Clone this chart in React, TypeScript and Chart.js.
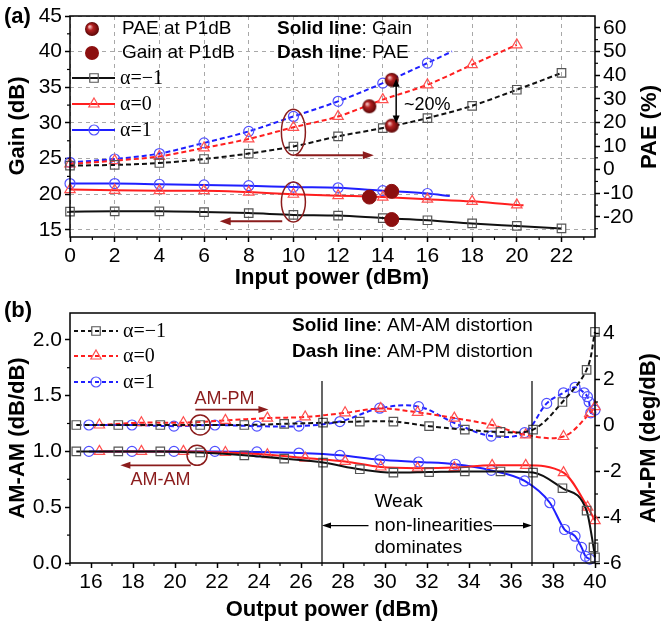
import React, { useEffect, useRef } from "react";
import { Chart, registerables } from "chart.js";
Chart.register(...registerables);

const SANS = "'Liberation Sans', Arial, Helvetica, sans-serif";
const SERIF = "'Liberation Serif', 'Times New Roman', serif";

const BLACK = "#111111";
const BLACK_M = "#555555";
const RED = "#ff1f1f";
const RED_M = "#ff5050";
const BLUE = "#1f1fff";
const BLUE_M = "#5050ff";
const DARKRED = "#8b1c1c";

// ================= Panel (a) data =================
const inPowerTicks = [0, 2, 4, 6, 8, 10, 12, 14, 16, 18, 20, 22];
const gainTicks = [15, 20, 25, 30, 35, 40, 45];
const paeTicks = [-20, -10, 0, 10, 20, 30, 40, 50, 60];

const gainX_m1 = [0, 2, 4, 6, 8, 10, 12, 14, 16, 18, 20, 22];
const gain_m1 = [17.55, 17.6, 17.6, 17.5, 17.35, 17.1, 17.0, 16.65, 16.35, 15.9, 15.55, 15.2];
const gainX_0 = [0, 2, 4, 6, 8, 10, 12, 14, 16, 18, 20, 20.3];
const gain_0 = [20.65, 20.55, 20.5, 20.5, 20.3, 20.0, 19.8, 19.6, 19.3, 19.0, 18.5, 18.45];
const gainX_1 = [0, 2, 4, 6, 8, 10, 12, 14, 16, 17];
const gain_1 = [21.5, 21.5, 21.4, 21.3, 21.2, 21.0, 20.9, 20.5, 20.1, 19.75];

const paeX_m1 = [0, 2, 4, 6, 8, 10, 12, 14, 16, 18, 20, 22];
const pae_m1 = [1.7, 2.0, 2.8, 4.5, 6.8, 9.8, 14.1, 17.6, 21.8, 27.0, 33.8, 40.9];
const paeX_0 = [0, 2, 4, 6, 8, 10, 12, 14, 16, 18, 20];
const pae_0 = [2.4, 3.8, 5.6, 9.2, 13.0, 17.9, 22.5, 29.6, 35.9, 44.4, 52.8];
const paeX_1 = [0, 2, 4, 6, 8, 10, 12, 14, 16, 17.1];
const pae_1 = [3.1, 4.5, 6.8, 11.3, 16.2, 22.5, 28.9, 36.6, 45.1, 50];

const p1dbX = [14.4, 13.4, 14.4];
const paeAtP1dB = [38, 26.8, 18.6];
const gainAtP1dB = [20.4, 19.6, 16.45];

// ================= Panel (b) data =================
const outPowerTicks = [16, 18, 20, 22, 24, 26, 28, 30, 32, 34, 36, 38, 40];
const amamTicks = [0, 0.5, 1.0, 1.5, 2.0];
const amamTickLabels = ["0.0", "0.5", "1.0", "1.5", "2.0"];
const ampmTicks = [-6, -4, -2, 0, 2, 4];

const amX_m1 = [15.3, 17.3, 19.3, 21.2, 23.3, 25.2, 27.05, 28.8, 30.4, 32.1, 33.8, 35.5, 37.05, 38.45, 39.6, 39.93, 40];
const amam_m1 = [1.0, 1.0, 1.0, 0.99, 0.965, 0.935, 0.9, 0.84, 0.81, 0.815, 0.82, 0.82, 0.81, 0.67, 0.47, 0.14, 0.05];
const pmX_m1 = [15.3, 17.3, 19.3, 21.2, 23.3, 25.2, 27.05, 28.8, 30.4, 32.1, 33.8, 35.5, 37.05, 38.45, 39.6, 40];
const ampm_m1 = [0, 0, 0, 0, 0, 0.05, 0.1, 0.15, 0.15, -0.05, -0.2, -0.3, -0.2, 1.0, 2.4, 4.05];

const amX_0 = [16.4, 18.4, 20.4, 22.4, 24.4, 26.2, 28.1, 29.8, 31.55, 33.3, 35.1, 36.7, 38.5, 39.65, 40];
const amam_0 = [1.0, 1.0, 1.0, 0.99, 0.97, 0.94, 0.91, 0.86, 0.85, 0.855, 0.875, 0.875, 0.81, 0.5, 0.38];
const pmX_0 = [16.4, 18.4, 20.4, 22.4, 24.4, 26.2, 28.1, 29.8, 31.55, 33.3, 35.1, 36.7, 38.5, 39.75, 40];
const ampm_0 = [0, 0.1, 0.1, 0.2, 0.3, 0.35, 0.53, 0.72, 0.55, 0.3, 0.0, -0.43, -0.5, 0.5, 0.8];

const amX_1 = [15.9, 17.95, 19.95, 21.9, 23.9, 25.9, 27.85, 29.75, 31.6, 33.35, 35.06, 36.65, 37.85, 38.55, 39.05, 39.36, 39.55, 39.75];
const amam_1 = [1.0, 1.0, 1.0, 1.0, 0.995, 0.985, 0.965, 0.925, 0.905, 0.885, 0.83, 0.735, 0.54, 0.3, 0.24, 0.14, 0.06, 0.035];
const pmX_1 = [15.9, 17.95, 19.95, 21.9, 23.9, 25.9, 27.85, 29.75, 31.6, 33.35, 35.06, 36.65, 37.7, 38.5, 39.05, 39.48, 39.64, 39.72, 39.8, 40];
const ampm_1 = [0, 0, -0.05, 0, -0.05, -0.05, 0.15, 0.73, 0.8, 0.07, -0.48, -0.33, 0.94, 1.4, 1.64, 1.4, 1.23, 1.0, 0.53, 0.65];

// ================= helpers =================
const pts = (xs: number[], ys: number[]) => xs.map((x, i) => ({ x, y: ys[i] }));

function seg(ctx: CanvasRenderingContext2D, x1: number, y1: number, x2: number, y2: number) {
  ctx.beginPath();
  ctx.moveTo(x1, y1);
  ctx.lineTo(x2, y2);
  ctx.stroke();
}

function head(ctx: CanvasRenderingContext2D, x: number, y: number, ang: number, len: number, w: number) {
  const c = Math.cos(ang), s = Math.sin(ang);
  ctx.beginPath();
  ctx.moveTo(x, y);
  ctx.lineTo(x - len * c - w * s, y - len * s + w * c);
  ctx.lineTo(x - len * c + w * s, y - len * s - w * c);
  ctx.closePath();
  ctx.fill();
}

function arrow(ctx: CanvasRenderingContext2D, x1: number, y1: number, x2: number, y2: number,
  color: string, lw: number, len: number, w: number, both = false, headEnd = true) {
  const ang = Math.atan2(y2 - y1, x2 - x1);
  const c = Math.cos(ang), s = Math.sin(ang);
  ctx.save();
  ctx.setLineDash([]);
  ctx.strokeStyle = color;
  ctx.fillStyle = color;
  ctx.lineWidth = lw;
  const sx = both ? x1 + len * 0.7 * c : x1;
  const sy = both ? y1 + len * 0.7 * s : y1;
  const ex = headEnd ? x2 - len * 0.7 * c : x2;
  const ey = headEnd ? y2 - len * 0.7 * s : y2;
  seg(ctx, sx, sy, ex, ey);
  if (headEnd) head(ctx, x2, y2, ang, len, w);
  if (both) head(ctx, x1, y1, ang + Math.PI, len, w);
  ctx.restore();
}

function marker(ctx: CanvasRenderingContext2D, style: string, x: number, y: number, r: number, color: string) {
  ctx.save();
  ctx.setLineDash([]);
  ctx.strokeStyle = color;
  ctx.lineWidth = 1.2;
  ctx.beginPath();
  if (style === "rect") {
    const s = r * Math.SQRT1_2;
    ctx.rect(x - s, y - s, 2 * s, 2 * s);
  } else if (style === "triangle") {
    let rad = 0;
    ctx.moveTo(x + Math.sin(rad) * r, y - Math.cos(rad) * r);
    rad += (2 * Math.PI) / 3;
    ctx.lineTo(x + Math.sin(rad) * r, y - Math.cos(rad) * r);
    rad += (2 * Math.PI) / 3;
    ctx.lineTo(x + Math.sin(rad) * r, y - Math.cos(rad) * r);
    ctx.closePath();
  } else {
    ctx.arc(x, y, r, 0, Math.PI * 2);
  }
  ctx.stroke();
  ctx.restore();
}

function mixText(ctx: CanvasRenderingContext2D, x: number, y: number, bold: string, normal: string, size: number) {
  ctx.save();
  ctx.fillStyle = "#000";
  ctx.textAlign = "left";
  ctx.textBaseline = "middle";
  ctx.font = `bold ${size}px ${SANS}`;
  ctx.fillText(bold, x, y);
  const w = ctx.measureText(bold).width;
  ctx.font = `${size}px ${SANS}`;
  ctx.fillText(normal, x + w, y);
  ctx.restore();
}

function text(ctx: CanvasRenderingContext2D, t: string, x: number, y: number, font: string, color = "#000", align: CanvasTextAlign = "left") {
  ctx.save();
  ctx.fillStyle = color;
  ctx.font = font;
  ctx.textAlign = align;
  ctx.textBaseline = "middle";
  ctx.fillText(t, x, y);
  ctx.restore();
}

function vText(ctx: CanvasRenderingContext2D, t: string, x: number, y: number, font: string) {
  ctx.save();
  ctx.translate(x, y);
  ctx.rotate(-Math.PI / 2);
  ctx.fillStyle = "#000";
  ctx.font = font;
  ctx.textAlign = "center";
  ctx.textBaseline = "middle";
  ctx.fillText(t, 0, 0);
  ctx.restore();
}

function makeSphere(r: number) {
  const c = document.createElement("canvas");
  const s = Math.ceil(r * 2 + 2);
  c.width = s;
  c.height = s;
  const g = c.getContext("2d")!;
  const grad = g.createRadialGradient(s / 2 - r * 0.35, s / 2 - r * 0.35, r * 0.1, s / 2, s / 2, r);
  grad.addColorStop(0, "#f2b8b8");
  grad.addColorStop(0.35, "#b52222");
  grad.addColorStop(1, "#5a0606");
  g.fillStyle = grad;
  g.beginPath();
  g.arc(s / 2, s / 2, r, 0, Math.PI * 2);
  g.fill();
  return c;
}

const tickFont = { family: SANS, size: 21 };

function axisY(min: number, max: number, ticks: number[], width: number, pos: "left" | "right", gridOn: boolean, labels?: string[]) {
  return {
    type: "linear",
    position: pos,
    min,
    max,
    afterBuildTicks: (s: any) => {
      s.ticks = ticks.map((v) => ({ value: v }));
    },
    afterFit: (s: any) => {
      s.width = width;
    },
    grid: {
      display: true,
      drawOnChartArea: gridOn,
      color: "#a8a8a8",
      lineWidth: 1,
      tickColor: "#000",
      tickLength: 5,
      tickWidth: 1.5,
    },
    border: { display: false, dash: [4, 4] },
    ticks: {
      font: tickFont,
      color: "#000",
      padding: 3,
      autoSkip: false,
      callback: (v: number) => {
        if (labels) {
          const i = ticks.indexOf(v);
          return i >= 0 ? labels[i] : "";
        }
        return String(v);
      },
    },
  };
}

function axisX(min: number, max: number, ticks: number[], height: number, gridOn: boolean) {
  return {
    type: "linear",
    min,
    max,
    afterBuildTicks: (s: any) => {
      s.ticks = ticks.map((v) => ({ value: v }));
    },
    afterFit: (s: any) => {
      s.height = height;
    },
    grid: {
      display: true,
      drawOnChartArea: gridOn,
      color: "#a8a8a8",
      lineWidth: 1,
      tickColor: "#000",
      tickLength: 5,
      tickWidth: 1.5,
    },
    border: { display: false, dash: [4, 4] },
    ticks: { font: tickFont, color: "#000", padding: 2, maxRotation: 0, autoSkip: false, callback: (v: number) => String(v) },
  };
}

// ================= plugins =================
const pluginA = {
  id: "annA",
  afterDraw(chart: any) {
    const { ctx, chartArea: ca, scales } = chart;
    const xs = scales.x, ys = scales.y, y2 = scales.y2;
    ctx.save();
    ctx.setLineDash([]);
    ctx.strokeStyle = "#000";
    ctx.lineWidth = 1.5;
    ctx.strokeRect(ca.left, ca.top, ca.right - ca.left, ca.bottom - ca.top);
    ctx.lineWidth = 1.2;
    for (let v = 1; v <= 23; v += 2) {
      const px = xs.getPixelForValue(v);
      seg(ctx, px, ca.bottom, px, ca.bottom + 3);
    }
    for (let v = 17.5; v < 45; v += 5) {
      const py = ys.getPixelForValue(v);
      seg(ctx, ca.left - 3, py, ca.left, py);
    }
    for (let v = -25; v < 65; v += 10) {
      const py = y2.getPixelForValue(v);
      seg(ctx, ca.right, py, ca.right + 3, py);
    }
    ctx.restore();

    // legend: P1dB
    const sph = chart.$sphere as HTMLCanvasElement;
    if (sph) ctx.drawImage(sph, 92 - sph.width / 2, 29 - sph.height / 2);
    ctx.save();
    ctx.fillStyle = "#8c0f0f";
    ctx.beginPath();
    ctx.arc(92, 53, 7, 0, Math.PI * 2);
    ctx.fill();
    ctx.restore();
    text(ctx, "PAE at P1dB", 122, 29, `19px ${SANS}`);
    text(ctx, "Gain at P1dB", 122, 53, `19px ${SANS}`);
    mixText(ctx, 277, 29, "Solid line", ": Gain", 19);
    mixText(ctx, 277, 53, "Dash line", ": PAE", 19);

    // legend: alpha
    const leg = [
      { y: 78, c: BLACK, m: BLACK_M, s: "rect", r: 6, t: "\u03b1=\u22121" },
      { y: 104, c: RED, m: RED_M, s: "triangle", r: 6, t: "\u03b1=0" },
      { y: 130, c: BLUE, m: BLUE_M, s: "circle", r: 5, t: "\u03b1=1" },
    ];
    for (const l of leg) {
      ctx.save();
      ctx.strokeStyle = l.c;
      ctx.lineWidth = 2;
      seg(ctx, 72, l.y, 115, l.y);
      ctx.restore();
      marker(ctx, l.s, 94, l.y, l.r, l.m);
      text(ctx, l.t, 120, l.y + 1, `20px ${SERIF}`);
    }

    // ellipses and arrows
    ctx.save();
    ctx.strokeStyle = DARKRED;
    ctx.lineWidth = 1.5;
    ctx.beginPath();
    ctx.ellipse(xs.getPixelForValue(10), ys.getPixelForValue(28.7), 12, 23, 0, 0, Math.PI * 2);
    ctx.stroke();
    ctx.beginPath();
    ctx.ellipse(xs.getPixelForValue(10), ys.getPixelForValue(18.9), 12, 20, 0, 0, Math.PI * 2);
    ctx.stroke();
    ctx.restore();
    arrow(ctx, xs.getPixelForValue(10.1), ys.getPixelForValue(25.45), xs.getPixelForValue(13.6), ys.getPixelForValue(25.45), DARKRED, 2, 11, 4);
    arrow(ctx, xs.getPixelForValue(9.5), ys.getPixelForValue(16.2), xs.getPixelForValue(6.7), ys.getPixelForValue(16.2), DARKRED, 2, 11, 4);
    arrow(ctx, xs.getPixelForValue(14.6), y2.getPixelForValue(38.5), xs.getPixelForValue(14.6), y2.getPixelForValue(19.5), "#000", 1.5, 8, 3.5, true);
    text(ctx, "~20%", xs.getPixelForValue(14.95), y2.getPixelForValue(27.3), `18px ${SANS}`);

    // axis titles
    text(ctx, "(a)", 4, 17, `bold 22px ${SANS}`);
    vText(ctx, "Gain (dB)", 18, 126, `bold 22px ${SANS}`);
    vText(ctx, "PAE (%)", 650, 127, `bold 22px ${SANS}`);
    text(ctx, "Input power (dBm)", 332, 278, `bold 22px ${SANS}`, "#000", "center");
  },
};

const pluginB = {
  id: "annB",
  afterDraw(chart: any) {
    const { ctx, chartArea: ca, scales } = chart;
    const xs = scales.x, ys = scales.y, y2 = scales.y2;
    ctx.save();
    ctx.setLineDash([]);
    ctx.strokeStyle = "#000";
    ctx.lineWidth = 1.5;
    ctx.strokeRect(ca.left, ca.top, ca.right - ca.left, ca.bottom - ca.top);
    ctx.lineWidth = 1.2;
    for (let v = 15; v <= 39; v += 2) {
      const px = xs.getPixelForValue(v);
      seg(ctx, px, ca.bottom, px, ca.bottom + 3);
    }
    for (let v = 0.25; v < 2.24; v += 0.5) {
      const py = ys.getPixelForValue(v);
      seg(ctx, ca.left - 3, py, ca.left, py);
    }
    for (let v = -5; v < 4.87; v += 2) {
      const py = y2.getPixelForValue(v);
      seg(ctx, ca.right, py, ca.right + 3, py);
    }
    // vertical separators
    ctx.lineWidth = 1.2;
    const v1 = xs.getPixelForValue(27), v2 = xs.getPixelForValue(37);
    const vt = ys.getPixelForValue(1.63);
    seg(ctx, v1, vt, v1, ca.bottom);
    seg(ctx, v2, vt, v2, ca.bottom);
    ctx.restore();

    // weak non-linearities
    const ay = ys.getPixelForValue(0.335);
    const tx = xs.getPixelForValue(29.5);
    const f19 = `19px ${SANS}`;
    text(ctx, "Weak", tx, ys.getPixelForValue(0.545), f19);
    text(ctx, "non-linearities", tx, ay, f19);
    text(ctx, "dominates", tx, ys.getPixelForValue(0.135), f19);
    ctx.save();
    ctx.font = f19;
    const tw = ctx.measureText("non-linearities").width;
    ctx.restore();
    arrow(ctx, tx - 6, ay, v1, ay, "#000", 1.2, 9, 3);
    arrow(ctx, tx + tw, ay, v2, ay, "#000", 1.2, 9, 3);

    // AM-PM / AM-AM annotations
    text(ctx, "AM-PM", xs.getPixelForValue(20.93), ys.getPixelForValue(1.473), `18px ${SANS}`, DARKRED);
    arrow(ctx, xs.getPixelForValue(20.97), ys.getPixelForValue(1.375), xs.getPixelForValue(24.45), ys.getPixelForValue(1.375), DARKRED, 1.8, 10, 3.5);
    ctx.save();
    ctx.strokeStyle = DARKRED;
    ctx.lineWidth = 1.5;
    ctx.beginPath();
    ctx.ellipse(xs.getPixelForValue(21.2), y2.getPixelForValue(0), 10, 10, 0, 0, Math.PI * 2);
    ctx.stroke();
    ctx.beginPath();
    ctx.ellipse(xs.getPixelForValue(21.05), ys.getPixelForValue(0.965), 10, 10, 0, 0, Math.PI * 2);
    ctx.stroke();
    ctx.restore();
    arrow(ctx, xs.getPixelForValue(20.75), ys.getPixelForValue(0.875), xs.getPixelForValue(17.4), ys.getPixelForValue(0.875), DARKRED, 1.8, 10, 3.5);
    text(ctx, "AM-AM", xs.getPixelForValue(17.88), ys.getPixelForValue(0.74), `18px ${SANS}`, DARKRED);

    // legend
    const leg = [
      { y: 41, c: BLACK, m: BLACK_M, s: "rect", r: 6, t: "\u03b1=\u22121" },
      { y: 66, c: RED, m: RED_M, s: "triangle", r: 6, t: "\u03b1=0" },
      { y: 92, c: BLUE, m: BLUE_M, s: "circle", r: 5, t: "\u03b1=1" },
    ];
    for (const l of leg) {
      ctx.save();
      ctx.strokeStyle = l.c;
      ctx.lineWidth = 2;
      ctx.setLineDash([4, 3]);
      seg(ctx, 74, l.y, 118, l.y);
      ctx.restore();
      marker(ctx, l.s, 96, l.y, l.r, l.m);
      text(ctx, l.t, 123, l.y + 1, `20px ${SERIF}`);
    }
    mixText(ctx, 292, 36, "Solid line", ": AM-AM distortion", 19);
    mixText(ctx, 292, 62, "Dash line", ": AM-PM distortion", 19);

    text(ctx, "(b)", 4, 21, `bold 22px ${SANS}`);
    vText(ctx, "AM-AM (dB/dB)", 18, 148, `bold 22px ${SANS}`);
    vText(ctx, "AM-PM (deg/dB)", 649, 148, `bold 22px ${SANS}`);
    text(ctx, "Output power (dBm)", 332, 320, `bold 22px ${SANS}`, "#000", "center");
  },
};

function lineDs(label: string, xs: number[], ys: number[], yAxisID: string, color: string, mcolor: string,
  style: string, r: number, dashed: boolean, evenOnly: boolean, monotone: boolean) {
  return {
    label,
    data: pts(xs, ys),
    yAxisID,
    borderColor: color,
    borderWidth: 2,
    borderDash: dashed ? [5, 3] : [],
    pointStyle: style,
    pointRadius: (c: any) => {
      if (!evenOnly) return r;
      const x = c.raw ? c.raw.x : 1;
      return x % 2 === 0 ? r : 0;
    },
    pointHoverRadius: 0,
    pointBorderColor: mcolor,
    pointBackgroundColor: "rgba(0,0,0,0)",
    pointBorderWidth: 1.2,
    tension: 0.35,
    cubicInterpolationMode: monotone ? "monotone" : "default",
    fill: false,
    clip: false,
    order: 2,
  };
}

export default function App() {
  const refA = useRef<HTMLCanvasElement>(null);
  const refB = useRef<HTMLCanvasElement>(null);

  useEffect(() => {
    Chart.defaults.font.family = SANS;
    Chart.defaults.color = "#000";
    const sphere = makeSphere(7);

    const chartA: any = new Chart(refA.current!, {
      type: "line",
      data: {
        datasets: [
          {
            label: "PAE at P1dB",
            data: pts(p1dbX, paeAtP1dB),
            yAxisID: "y2",
            showLine: false,
            pointStyle: sphere,
            pointRadius: 7,
            clip: false,
            order: 0,
          } as any,
          {
            label: "Gain at P1dB",
            data: pts(p1dbX, gainAtP1dB),
            yAxisID: "y",
            showLine: false,
            pointStyle: "circle",
            pointRadius: 7,
            pointBackgroundColor: "#8c0f0f",
            pointBorderColor: "#8c0f0f",
            clip: false,
            order: 0,
          },
          lineDs("Gain α=-1", gainX_m1, gain_m1, "y", BLACK, BLACK_M, "rect", 6, false, true, true),
          lineDs("Gain α=0", gainX_0, gain_0, "y", RED, RED_M, "triangle", 6, false, true, true),
          lineDs("Gain α=1", gainX_1, gain_1, "y", BLUE, BLUE_M, "circle", 5, false, true, true),
          lineDs("PAE α=-1", paeX_m1, pae_m1, "y2", BLACK, BLACK_M, "rect", 6, true, true, true),
          lineDs("PAE α=0", paeX_0, pae_0, "y2", RED, RED_M, "triangle", 6, true, true, true),
          lineDs("PAE α=1", paeX_1, pae_1, "y2", BLUE, BLUE_M, "circle", 5, true, true, true),
        ] as any,
      },
      options: {
        responsive: false,
        animation: false,
        events: [],
        layout: { padding: { top: 16, left: 0, right: 0, bottom: 0 } },
        plugins: { legend: { display: false }, tooltip: { enabled: false } },
        scales: {
          x: axisX(0, 23.5, inPowerTicks, 53, true),
          y: axisY(14, 45, gainTicks, 70, "left", true),
          y2: axisY(-28.5, 65, paeTicks, 67, "right", false),
        } as any,
      },
      plugins: [pluginA],
    } as any);
    chartA.$sphere = sphere;
    chartA.draw();

    const chartB = new Chart(refB.current!, {
      type: "line",
      data: {
        datasets: [
          lineDs("AM-AM α=-1", amX_m1, amam_m1, "y", BLACK, BLACK_M, "rect", 6, false, false, true),
          lineDs("AM-AM α=0", amX_0, amam_0, "y", RED, RED_M, "triangle", 6, false, false, true),
          lineDs("AM-AM α=1", amX_1, amam_1, "y", BLUE, BLUE_M, "circle", 5, false, false, true),
          lineDs("AM-PM α=-1", pmX_m1, ampm_m1, "y2", BLACK, BLACK_M, "rect", 6, true, false, false),
          lineDs("AM-PM α=0", pmX_0, ampm_0, "y2", RED, RED_M, "triangle", 6, true, false, false),
          lineDs("AM-PM α=1", pmX_1, ampm_1, "y2", BLUE, BLUE_M, "circle", 5, true, false, false),
        ] as any,
      },
      options: {
        responsive: false,
        animation: false,
        events: [],
        layout: { padding: { top: 23, left: 0, right: 0, bottom: 0 } },
        plugins: { legend: { display: false }, tooltip: { enabled: false } },
        scales: {
          x: axisX(15, 40, outPowerTicks, 68, false),
          y: axisY(0, 2.24, amamTicks, 70, "left", false, amamTickLabels),
          y2: axisY(-6, 4.87, ampmTicks, 67, "right", false),
        } as any,
      },
      plugins: [pluginB],
    } as any);

    return () => {
      chartA.destroy();
      chartB.destroy();
    };
  }, []);

  return (
    <div style={{ position: "fixed", left: 0, top: 0, width: 662, height: 631, background: "#fff" }}>
      <canvas ref={refA} width={662} height={290} style={{ position: "absolute", left: 0, top: 0, width: 662, height: 290 }} />
      <canvas ref={refB} width={662} height={341} style={{ position: "absolute", left: 0, top: 290, width: 662, height: 341 }} />
    </div>
  );
}
